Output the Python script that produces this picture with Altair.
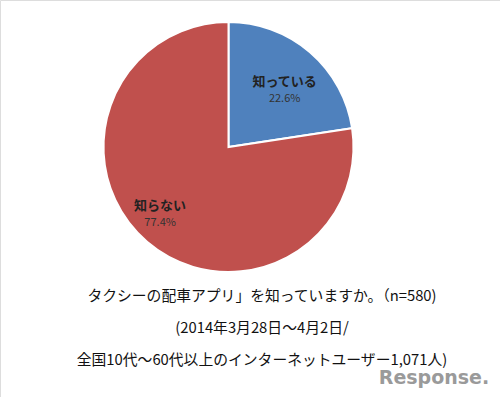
import altair as alt
import pandas as pd

categories = ["知っている", "知らない"]
values = [22.6, 77.4]
pct_labels = ["22.6%", "77.4%"]
colors = ["#4F81BD", "#C0504D"]

caption_lines = [
    "タクシーの配車アプリ」を知っていますか。（n=580)",
    "(2014年3月28日～4月2日/",
    "全国10代～60代以上のインターネットユーザー1,071人)",
]
caption_y = [297, 329, 361]

df = pd.DataFrame({
    "cat": categories,
    "val": values,
    "pct": pct_labels,
    "ord": [0, 1],
})

CX, CY = 228.5, 147
font = "Noto Sans CJK JP"
theta_scale = alt.Scale(domain=[0, 100])

pie = alt.Chart(df).mark_arc(outerRadius=125, stroke="white", strokeWidth=2).encode(
    theta=alt.Theta("val:Q", stack=True, scale=theta_scale),
    order=alt.Order("ord:Q"),
    x=alt.value(CX),
    y=alt.value(CY),
    color=alt.Color("cat:N", scale=alt.Scale(domain=categories, range=colors), legend=None),
)

lab = alt.Chart(df).transform_window(
    cum="sum(val)", sort=[alt.SortField("ord")]
).transform_calculate(
    mid="datum.cum - datum.val / 2"
).encode(
    theta=alt.Theta("mid:Q", stack=False, scale=theta_scale),
    x=alt.value(CX),
    y=alt.value(CY),
)

# per-slice label styling: (category, radius, dx, dy)
label_styles = [(categories[0], 80, 4, 4), (categories[1], 98, -4.5, -7)]
label_layers = []
for cat, r, ddx, ddy in label_styles:
    sub = lab.transform_filter(alt.datum.cat == cat)
    label_layers.append(
        sub.mark_text(font=font, fontSize=13, fontWeight="bold", color="#222222",
                      radius=r, dx=ddx, dy=ddy - 8).encode(text="cat:N")
    )
    label_layers.append(
        sub.mark_text(font=font, fontSize=11, color="#333333",
                      radius=r, dx=ddx, dy=ddy + 9).encode(text="pct:N")
    )

cap_df = pd.DataFrame({"t": caption_lines, "y": caption_y})
captions = alt.Chart(cap_df).mark_text(font=font, fontSize=14.8, color="#111111").encode(
    x=alt.value(262),
    y=alt.Y("y:Q", scale=None),
    text="t:N",
)

logo = alt.Chart(pd.DataFrame({"t": ["Response."]})).mark_text(
    font="DejaVu Sans", fontSize=19, color="#9A9A9A", fontWeight="bold"
).encode(x=alt.value(434), y=alt.value(378), text="t:N")

chart = alt.layer(pie, *label_layers, captions, logo).properties(
    width=500, height=397, padding=0, autosize=alt.AutoSizeParams(type="none")
).configure_view(stroke=None).configure(background="white")

chart.save("out.html", embed_options={"renderer": "svg", "actions": False})
